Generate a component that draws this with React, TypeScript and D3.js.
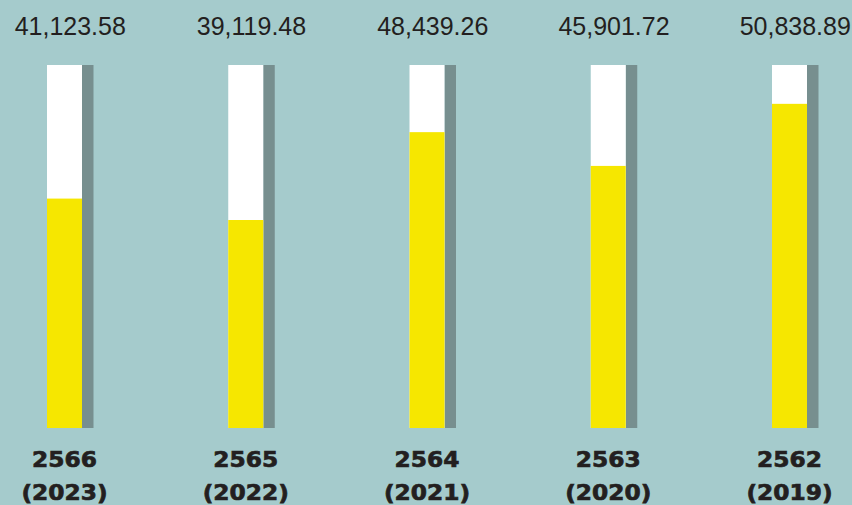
import React from "react";
import * as d3 from "d3";

const buddhistYears = ["2566", "2565", "2564", "2563", "2562"];
const gregorianYears = ["(2023)", "(2022)", "(2021)", "(2020)", "(2019)"];
const values = [41123.58, 39119.48, 48439.26, 45901.72, 50838.89];
// fill level of each column, in percent of the column height
const fillLevels = [63.2, 57.3, 81.5, 72.2, 89.3];

const W = 852;
const H = 505;
const BG = "#a5cbcc";
const YELLOW = "#f6e700";
const SHADOW = "#778f8f";

export default function App() {
  const x = d3.scalePoint<string>().domain(buddhistYears).range([47, 772]).padding(0);
  const y = d3.scaleLinear().domain([0, 100]).range([428, 65]);
  const barW = 35;
  const shadowW = 11.5;
  const fmt = d3.format(",.2f");

  return (
    <div style={{ position: "fixed", left: 0, top: 0, width: W, height: H, background: BG }}>
      <svg width={W} height={H} style={{ display: "block" }}>
        <rect x={0} y={0} width={W} height={H} fill={BG} />
        {buddhistYears.map((k, i) => {
          const x0 = x(k) as number;
          const cx = x0 + barW / 2;
          return (
            <g key={k}>
              <rect x={x0 + barW} y={y(100)} width={shadowW} height={y(0) - y(100)} fill={SHADOW} />
              <rect x={x0} y={y(100)} width={barW} height={y(0) - y(100)} fill="#ffffff" />
              <rect x={x0} y={y(fillLevels[i])} width={barW} height={y(0) - y(fillLevels[i])} fill={YELLOW} />
              <text
                x={x0 + (barW + shadowW) / 2}
                y={35}
                textAnchor="middle"
                fontFamily="Liberation Sans, Arial, sans-serif"
                fontSize={25}
                fill="#231f20"
              >
                {fmt(values[i])}
              </text>
              <g transform={`translate(${cx},0) scale(1.06,1)`}>
                <text
                  x={0}
                  y={467.5}
                  textAnchor="middle"
                  fontFamily="DejaVu Sans, sans-serif"
                  fontWeight="bold"
                  fontSize={22}
                  fill="#231f20"
                  stroke="#231f20"
                  strokeWidth={0.7}
                >
                  {k}
                </text>
                <text
                  x={0}
                  y={500}
                  textAnchor="middle"
                  fontFamily="DejaVu Sans, sans-serif"
                  fontWeight="bold"
                  fontSize={22}
                  fill="#231f20"
                  stroke="#231f20"
                  strokeWidth={0.7}
                >
                  {gregorianYears[i]}
                </text>
              </g>
            </g>
          );
        })}
      </svg>
    </div>
  );
}
